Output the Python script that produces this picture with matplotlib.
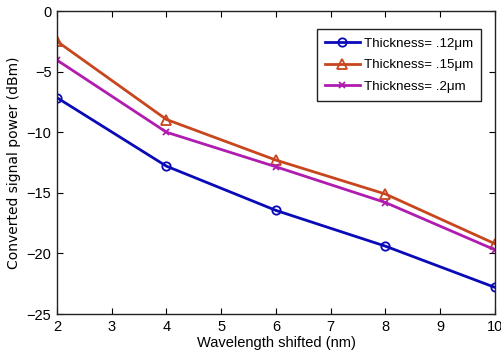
import numpy as np
import matplotlib
matplotlib.use("Agg")
import matplotlib.pyplot as plt

plt.rcParams['font.family'] = ['Liberation Sans', 'DejaVu Sans']

# wavelength shift (nm) and converted power (dBm) for each thickness
shift = [2, 4, 6, 8, 10]
p_012 = [-7.15, -12.8, -16.45, -19.4, -22.8]
p_015 = [-2.5, -8.95, -12.3, -15.1, -19.2]
p_020 = [-4.05, -10.0, -12.85, -15.8, -19.7]
labels = ['Thickness= .12\u03bcm', 'Thickness= .15\u03bcm', 'Thickness= .2\u03bcm']

fig = plt.figure(figsize=(5.02, 3.61), dpi=100)
ax = fig.add_axes([0.1135, 0.130, 0.8725, 0.8395])

ax.plot(shift, p_012, '-o', color='#0a0ab8', lw=2, ms=6, mfc='none', mew=1.3, label=labels[0])
ax.plot(shift, p_015, '-^', color='#c8461e', lw=2, ms=7, mfc='none', mew=1.3, label=labels[1])
ax.plot(shift, p_020, '-x', color='#b01cb0', lw=2, ms=5, mew=1.3, label=labels[2])

ax.set_xlim(2, 10)
ax.set_ylim(-25, 0)
ax.set_xticks(range(2, 11))
ax.set_yticks([-25, -20, -15, -10, -5, 0])
ax.tick_params(direction='in', top=True, right=True, labelsize=10.5, length=4, pad=4)
for s in ax.spines.values():
    s.set_linewidth(1.0)
    s.set_color('#222222')

ax.set_xlabel('Wavelength shifted (nm)', fontsize=10.5, labelpad=2)
ax.set_ylabel('Converted signal power (dBm)', fontsize=10, family=['DejaVu Sans'], labelpad=4)

leg = ax.legend(loc='upper right', bbox_to_anchor=(0.968, 0.94), fontsize=9.6,
                fancybox=False, framealpha=1, edgecolor='#222222',
                borderpad=0.6, labelspacing=0.7, handlelength=2.6, handletextpad=0.3,
                borderaxespad=0)
leg.get_frame().set_linewidth(1.0)

fig.savefig('out.png', dpi=100)
